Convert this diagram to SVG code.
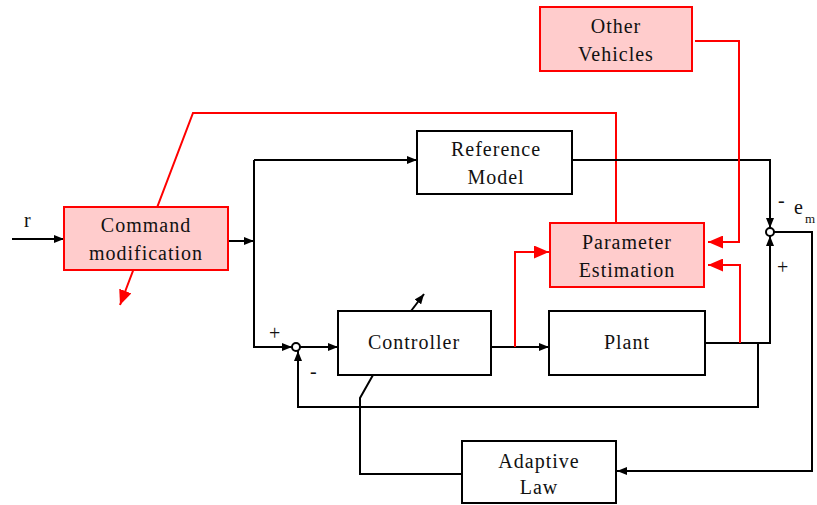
<svg xmlns="http://www.w3.org/2000/svg" width="817" height="505" viewBox="0 0 817 505" font-family="Times New Roman, Times, Liberation Serif, DejaVu Serif, serif">
  <defs>
    <marker id="ah" markerWidth="10" markerHeight="8" refX="10" refY="4" orient="auto" markerUnits="userSpaceOnUse">
      <path d="M0,0 L10,4 L0,8 Z" fill="#000"/>
    </marker>
    <marker id="ahr" markerWidth="15" markerHeight="13" refX="15" refY="6.5" orient="auto" markerUnits="userSpaceOnUse">
      <path d="M0,0 L15,6.5 L0,13 Z" fill="#f00"/>
    </marker>
  </defs>
  <style>
    .blk { fill: #fff; stroke: #000; stroke-width: 2; }
    .est { fill: #ffcccc; stroke: #f00; stroke-width: 2; }
    .w { fill: none; stroke: #000; stroke-width: 2; }
    .r { fill: none; stroke: #f00; stroke-width: 2; }
    .sum { fill: #fff; stroke: #000; stroke-width: 2; }
    text { font-family: 'Times New Roman', Times, 'Liberation Serif', 'DejaVu Serif', serif; font-size: 20px; fill: #111; letter-spacing: 1px; }
    .c { text-anchor: middle; }
  </style>

  <!-- signal lines -->
  <g id="connectors">
    <!-- red line passing behind command block -->
    <polyline class="r" points="616,223 616,113 193,113 120,305" marker-end="url(#ahr)"/>
    <line class="w" x1="12" y1="239" x2="64" y2="239" marker-end="url(#ah)"/>
    <line class="w" x1="228" y1="241" x2="254" y2="241" marker-end="url(#ah)"/>
    <polyline class="w" points="254,160 254,347 292,347" marker-end="url(#ah)"/>
    <line class="w" x1="254" y1="160" x2="417" y2="160" marker-end="url(#ah)"/>
    <line class="w" x1="300" y1="347" x2="338" y2="347" marker-end="url(#ah)"/>
    <line class="w" x1="491" y1="347" x2="549" y2="347" marker-end="url(#ah)"/>
    <polyline class="w" points="572,160 770,160 770,228" marker-end="url(#ah)"/>
    <polyline class="w" points="705,343 770,343 770,236" marker-end="url(#ah)"/>
    <polyline class="w" points="758,343 758,407 298,407 298,351" marker-end="url(#ah)"/>
    <polyline class="w" points="774,232 812,232 812,471 617,471" marker-end="url(#ah)"/>
    <polyline class="w" points="373,375 360,398 360,474 462,474"/>
    <line class="w" x1="411" y1="311" x2="424" y2="294" marker-end="url(#ah)"/>
    <!-- estimator inputs -->
    <polyline class="r" points="515,347 515,252 549,252" marker-end="url(#ahr)"/>
    <polyline class="r" points="695,41 739,41 739,242 708,242" marker-end="url(#ahr)"/>
    <polyline class="r" points="740,343 740,265 708,265" marker-end="url(#ahr)"/>
  </g>

  <g id="sum1"><circle class="sum" cx="770" cy="232" r="4"/></g>
  <g id="sum2"><circle class="sum" cx="296" cy="347" r="4"/></g>

  <g id="other-vehicles">
    <rect class="est" x="540" y="7" width="152" height="64"/>
    <text class="c" x="616" y="33">Other</text>
    <text class="c" x="616" y="61">Vehicles</text>
  </g>
  <g id="reference-model">
    <rect class="blk" x="417" y="131" width="155" height="63"/>
    <text class="c" x="496" y="156">Reference</text>
    <text class="c" x="496" y="184">Model</text>
  </g>
  <g id="command-modification">
    <rect class="est" x="64" y="207" width="164" height="63"/>
    <text class="c" x="146" y="232">Command</text>
    <text class="c" x="146" y="260">modification</text>
  </g>
  <g id="parameter-estimation">
    <rect class="est" x="550" y="223" width="154" height="64"/>
    <text class="c" x="627" y="249">Parameter</text>
    <text class="c" x="627" y="277">Estimation</text>
  </g>
  <g id="controller">
    <rect class="blk" x="338" y="311" width="153" height="64"/>
    <text class="c" x="414" y="349">Controller</text>
  </g>
  <g id="plant">
    <rect class="blk" x="549" y="311" width="156" height="64"/>
    <text class="c" x="627" y="349">Plant</text>
  </g>
  <g id="adaptive-law">
    <rect class="blk" x="462" y="441" width="154" height="62"/>
    <text class="c" x="539" y="468">Adaptive</text>
    <text class="c" x="539" y="494">Law</text>
  </g>

  <g id="labels">
    <text x="24" y="227">r</text>
    <text x="269" y="340">+</text>
    <text x="310" y="378">-</text>
    <text x="778" y="207">-</text>
    <text x="794" y="214">e</text>
    <text x="805" y="223" style="font-size:13px">m</text>
    <text x="777" y="274">+</text>
  </g>
</svg>
